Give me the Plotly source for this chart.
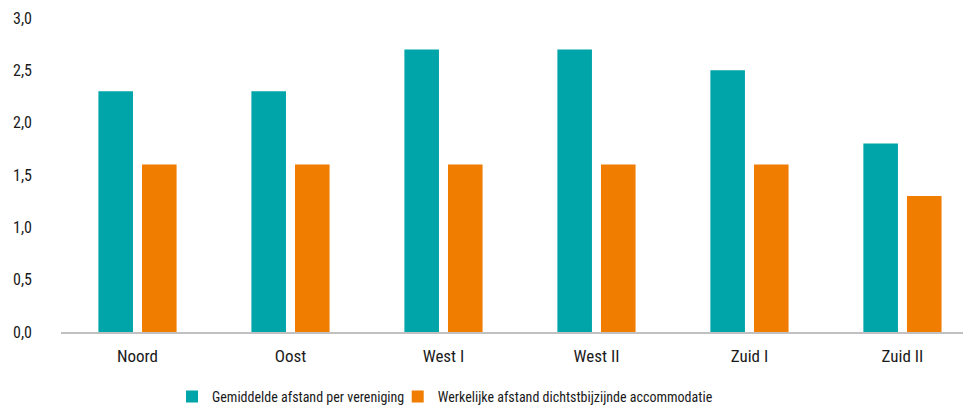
import plotly.graph_objects as go

categories = ["Noord", "Oost", "West I", "West II", "Zuid I", "Zuid II"]
gemiddelde = [2.3, 2.3, 2.7, 2.7, 2.5, 1.8]
werkelijke = [1.6, 1.6, 1.6, 1.6, 1.6, 1.3]
series_names = ["Gemiddelde afstand per vereniging", "Werkelijke afstand dichtstbijzijnde accommodatie"]
y_ticks = [0, 0.5, 1.0, 1.5, 2.0, 2.5, 3.0]
y_tick_labels = ["0,0", "0,5", "1,0", "1,5", "2,0", "2,5", "3,0"]

FONT = "Roboto Condensed, Noto Sans Condensed, Liberation Sans Narrow, DejaVu Sans Condensed, sans-serif"

fig = go.Figure()
fig.add_trace(go.Bar(x=list(range(len(categories))), y=gemiddelde, name=series_names[0],
                     marker=dict(color="#00A5AA", line=dict(width=0)), legend="legend"))
fig.add_trace(go.Bar(x=list(range(len(categories))), y=werkelijke, name=series_names[1],
                     marker=dict(color="#F07D00", line=dict(width=0)), legend="legend2"))

legend_common = dict(orientation="h", yref="container", y=0.028, yanchor="middle",
                     xanchor="left", font=dict(size=14), itemwidth=30,
                     bgcolor="rgba(0,0,0,0)")

fig.update_layout(
    width=963, height=400,
    margin=dict(l=53, r=0, t=10, b=76),
    paper_bgcolor="white", plot_bgcolor="white",
    barmode="group", bargap=0.43, bargroupgap=0.207,
    font=dict(family=FONT, size=16, color="#1a1a1a"),
    showlegend=True,
    legend=dict(x=0.122, **legend_common),
    legend2=dict(x=0.370, **legend_common),
    xaxis=dict(range=[-0.5, 5.448], tickmode="array", tickvals=list(range(len(categories))),
               ticktext=categories, showline=True, linecolor="#c0c0c0", linewidth=2,
               showgrid=False, zeroline=False, ticks="", fixedrange=True,
               ticklabelstandoff=8, tickfont=dict(size=17)),
    yaxis=dict(range=[0, 3.0], tickmode="array", tickvals=y_ticks, ticktext=y_tick_labels,
               showgrid=False, zeroline=False, showline=False, ticks="",
               ticklabelstandoff=28, tickfont=dict(size=16)),
)

fig.write_html("out.html")
